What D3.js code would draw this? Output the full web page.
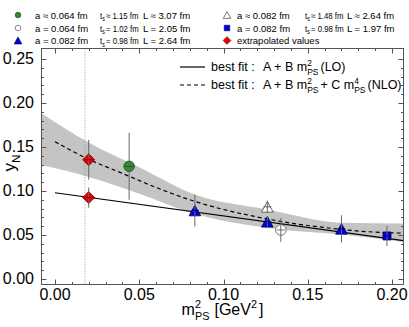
<!DOCTYPE html>
<html>
<head>
<meta charset="utf-8">
<script src="https://cdn.jsdelivr.net/npm/d3@7"></script>
<style>
  body { margin: 0; background: #fff; }
  svg { display: block; }
  text { font-family: "Liberation Sans", Arial, sans-serif; fill: #000; white-space: pre; }
</style>
</head>
<body>
<div id="chart"></div>
<script>
var width = 409, height = 327;

// ---- data ----
// legend entries (set index = position in these arrays)
const legA  = ["a \u2248 0.064 fm", "a = 0.064 fm", "a = 0.082 fm", "a \u2248 0.082 fm", "a = 0.082 fm", "extrapolated values"];
const legTs = ["\u2248 1.15 fm", "= 1.02 fm", "= 0.98 fm", "\u2248 1.48 fm", "= 0.98 fm", null];
const legL  = ["L \u2248 3.07 fm", "L = 2.05 fm", "L = 2.64 fm", "L \u2248 2.64 fm", "L = 1.97 fm", null];

// lattice points: m_PS^2, y_N, error, set
const ptM2  = [0.044, 0.134, 0.083, 0.126, 0.170, 0.126, 0.197, 0.020, 0.020];
const ptY   = [0.128, 0.0557, 0.0778, 0.0650, 0.0570, 0.0820, 0.0489, 0.1355, 0.0925];
const ptErr = [0.038, 0.0135, 0.0180, 0.0060, 0.0155, 0.0070, 0.0114, 0.0225, 0.0114];
const ptSet = [0, 1, 2, 2, 2, 3, 4, 5, 5];

// LO fit (straight line)
const loM2 = [0, 0.2068];
const loY  = [0.098, 0.0435];

// NLO fit (dashed)
const nloM2 = [0, 0.02, 0.04, 0.06, 0.08, 0.10, 0.12, 0.14, 0.16, 0.18, 0.2068];
const nloY  = [0.156, 0.136, 0.120, 0.104, 0.090, 0.079, 0.0705, 0.0635, 0.0585, 0.0545, 0.052];

// NLO error band
const bandM2 = [-0.008, 0.02, 0.05, 0.083, 0.126, 0.17, 0.2068];
const bandHi = [0.188, 0.155, 0.127, 0.096, 0.079, 0.064, 0.063];
const bandLo = [0.1295, 0.116, 0.097, 0.074, 0.058, 0.0505, 0.042];

const physM2 = 0.0178;   // dotted vertical line

const xTicks = [0, 0.05, 0.10, 0.15, 0.20];
const yTicks = [0, 0.05, 0.10, 0.15, 0.20, 0.25];

// ---- layout ----
var x0 = 41.5, x1 = 403.5, y0 = 48.5, y1 = 284.5;

var x = d3.scaleLinear().domain([-0.008, 0.2068]).range([x0, x1]);
var y = d3.scaleLinear().domain([-0.00625, 0.2619]).range([y1, y0]);

var svg = d3.select("#chart").append("svg")
  .attr("width", width).attr("height", height);

// rich text helper: strings are normal text, objects give stacked sup/sub
function rich(g, px, py, parts, fs) {
  var cx = px;
  parts.forEach(p => {
    if (typeof p === "string") {
      var t = g.append("text").attr("x", cx).attr("y", py).attr("font-size", fs).text(p);
      cx += t.node().getComputedTextLength();
    } else {
      var w = 0;
      if (p.sup != null) {
        var t1 = g.append("text").attr("x", cx).attr("y", py - fs * 0.42).attr("font-size", fs * 0.68).text(p.sup);
        w = Math.max(w, t1.node().getComputedTextLength());
      }
      if (p.sub != null) {
        var t2 = g.append("text").attr("x", cx).attr("y", py + fs * 0.3).attr("font-size", fs * 0.68).text(p.sub);
        w = Math.max(w, t2.node().getComputedTextLength());
      }
      cx += w + (p.gap || 0);
    }
  });
  return cx - px;
}

// marker shapes
const markFill   = ["#2e8b2e", "#fff", "#0000e0", "#fff", "#0000e0", "#ee0000"];
const markStroke = ["#1a4d1a", "#555", "#00005a", "#444", "#00005a", "#600"];

function markerPath(set, s) {
  if (set === 0 || set === 1) return d3.symbol(d3.symbolCircle, Math.PI * s * s)();
  if (set === 2 || set === 3) return "M0," + (-s) + "L" + (s * 1.1) + "," + s + "L" + (-s * 1.1) + "," + s + "Z";
  if (set === 4) return "M" + (-s * 0.8) + "," + (-s * 0.8) + "h" + (s * 1.6) + "v" + (s * 1.6) + "h" + (-s * 1.6) + "Z";
  return "M0," + (-s) + "L" + s + ",0L0," + s + "L" + (-s) + ",0Z";
}

// ---- band ----
var bandData = bandM2.map((m, i) => ({ m: m, lo: bandLo[i], hi: bandHi[i] }));
svg.append("path")
  .datum(bandData)
  .attr("fill", "#c4c4c4")
  .attr("d", d3.area().curve(d3.curveMonotoneX)
    .x(d => x(d.m)).y0(d => y(d.lo)).y1(d => y(d.hi)));

// dotted vertical line
svg.append("line")
  .attr("x1", x(physM2)).attr("x2", x(physM2))
  .attr("y1", y0).attr("y2", y1)
  .attr("stroke", "#888").attr("stroke-dasharray", "1,2");

// fits
svg.append("path")
  .datum(loM2.map((m, i) => [m, loY[i]]))
  .attr("fill", "none").attr("stroke", "#000").attr("stroke-width", 1.2)
  .attr("d", d3.line().x(d => x(d[0])).y(d => y(d[1])));

svg.append("path")
  .datum(nloM2.map((m, i) => [m, nloY[i]]))
  .attr("fill", "none").attr("stroke", "#000").attr("stroke-width", 1.2)
  .attr("stroke-dasharray", "4,3")
  .attr("d", d3.line().curve(d3.curveMonotoneX).x(d => x(d[0])).y(d => y(d[1])));

// ---- points ----
var pts = ptM2.map((m, i) => ({ m: m, v: ptY[i], e: ptErr[i], s: ptSet[i] }));

var pg = svg.append("g");
pg.selectAll("path.mark").data(pts).enter().append("path")
  .attr("class", "mark")
  .attr("transform", d => "translate(" + x(d.m) + "," + y(d.v) + ")")
  .attr("d", d => markerPath(d.s, d.s === 4 ? 5 : (d.s === 5 ? 6 : 5.3)))
  .attr("fill", d => markFill[d.s])
  .attr("stroke", d => markStroke[d.s])
  .attr("stroke-width", 0.8);

pg.selectAll("line.err").data(pts).enter().append("line")
  .attr("class", "err")
  .attr("x1", d => x(d.m)).attr("x2", d => x(d.m))
  .attr("y1", d => y(d.v - d.e)).attr("y2", d => y(d.v + d.e))
  .attr("stroke", "#666").attr("stroke-width", 1);

pg.selectAll("line.hb").data(pts).enter().append("line")
  .attr("class", "hb")
  .attr("x1", d => x(d.m) - 4).attr("x2", d => x(d.m) + 4)
  .attr("y1", d => y(d.v)).attr("y2", d => y(d.v))
  .attr("stroke", d => markStroke[d.s]).attr("stroke-width", 0.8);

// ---- frame and ticks ----
svg.append("rect")
  .attr("x", x0).attr("y", y0).attr("width", x1 - x0).attr("height", y1 - y0)
  .attr("fill", "none").attr("stroke", "#555").attr("stroke-width", 1);

var tk = svg.append("g").attr("stroke", "#555").attr("stroke-width", 1);
d3.range(0, 0.2001, 0.01).forEach((t, i) => {
  var len = (i % 5 === 0) ? 5 : 2.5;
  var px = Math.round(x(t)) + 0.5;
  tk.append("line").attr("x1", px).attr("x2", px).attr("y1", y1).attr("y2", y1 - len);
  tk.append("line").attr("x1", px).attr("x2", px).attr("y1", y0).attr("y2", y0 + len);
});
d3.range(0, 0.2501, 0.01).forEach((t, i) => {
  var len = (i % 5 === 0) ? 5 : 2.5;
  var py = Math.round(y(t)) + 0.5;
  tk.append("line").attr("x1", x0).attr("x2", x0 + len).attr("y1", py).attr("y2", py);
  tk.append("line").attr("x1", x1).attr("x2", x1 - len).attr("y1", py).attr("y2", py);
});

svg.selectAll("text.xt").data(xTicks).enter().append("text")
  .attr("class", "xt")
  .attr("x", d => x(d)).attr("y", 300)
  .attr("text-anchor", "middle").attr("font-size", 16)
  .text(d => d.toFixed(2));

svg.selectAll("text.yt").data(yTicks).enter().append("text")
  .attr("class", "yt")
  .attr("x", 34).attr("y", d => y(d) + 5.5)
  .attr("text-anchor", "end").attr("font-size", 16)
  .text(d => d.toFixed(2));

// axis titles
var xt = svg.append("g");
var xw = rich(xt, 0, 0, ["m", { sup: "2", sub: "PS", gap: 5 }, "[GeV", { sup: "2", gap: 2 }, "]"], 16);
xt.attr("transform", "translate(" + ((x0 + x1) / 2 - xw / 2) + ",315)");

var yt = svg.append("g");
var yw = rich(yt, 0, 0, ["y", { sub: "N" }], 17);
yt.attr("transform", "translate(15," + (163 + yw / 2) + ") rotate(-90)");

// ---- top legend ----
var leg = svg.append("g");
const colMark = [18, 227], colA = [35, 237], colT = [100, 305], colL = [143, 347];
const rowY = [15, 28, 40.5];
legA.forEach((lab, i) => {
  var c = Math.floor(i / 3), r = i % 3;
  var cy = rowY[r];
  var sz = (i === 0 || i === 1) ? 2.8 : (i === 5 ? 3.8 : 3.4);
  leg.append("path")
    .attr("transform", "translate(" + colMark[c] + "," + cy + ")")
    .attr("d", markerPath(i, sz))
    .attr("fill", markFill[i]).attr("stroke", markStroke[i]).attr("stroke-width", 0.7);
  leg.append("text").attr("x", colA[c]).attr("y", cy + 3.5).attr("font-size", 9.5).text(lab);
  if (legTs[i]) {
    var tg = leg.append("g")
      .attr("transform", "translate(" + colT[c] + "," + (cy + 3.5) + ") scale(0.82,1)");
    rich(tg, 0, 0, ["t", { sub: "s", gap: 1.5 }, legTs[i]], 9.5);
    leg.append("text").attr("x", colL[c]).attr("y", cy + 3.5).attr("font-size", 9.5).text(legL[i]);
  }
});

// ---- fit legend ----
var fl = svg.append("g");
fl.append("line").attr("x1", 180).attr("x2", 205).attr("y1", 67).attr("y2", 67)
  .attr("stroke", "#000").attr("stroke-width", 1.2);
fl.append("line").attr("x1", 180).attr("x2", 205).attr("y1", 85).attr("y2", 85)
  .attr("stroke", "#000").attr("stroke-width", 1.2).attr("stroke-dasharray", "4,3");
fl.append("text").attr("x", 211).attr("y", 71).attr("font-size", 12.5).text("best fit :");
fl.append("text").attr("x", 211).attr("y", 89).attr("font-size", 12.5).text("best fit :");
rich(fl, 263, 71, ["A + B m", { sup: "2", sub: "PS", gap: 2 }, "(LO)"], 12.5);
rich(fl, 263, 89, ["A + B m", { sup: "2", sub: "PS", gap: 2 }, "+ C m", { sup: "4", sub: "PS", gap: 2 }, "(NLO)"], 12.5);
</script>
</body>
</html>
